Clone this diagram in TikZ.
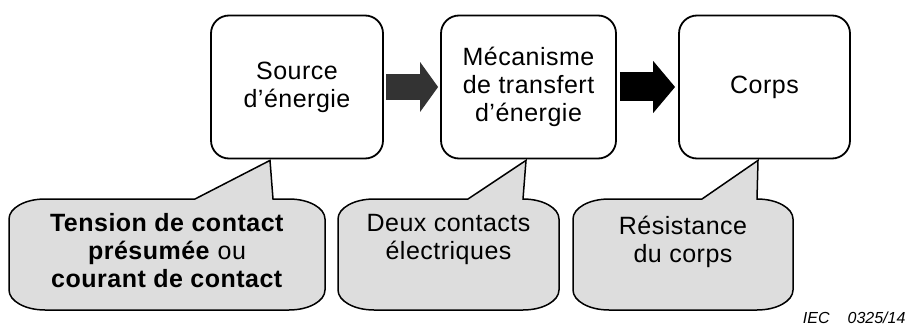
\documentclass[tikz,border=0pt]{standalone}
\usepackage{fontspec}
\setmainfont{Liberation Sans}
\usepackage{tikz}
\usetikzlibrary{calc}
\usetikzlibrary{arrows.meta}
\definecolor{grisbulle}{RGB}{221,221,221}
\definecolor{grisfleche}{RGB}{51,51,51}

\begin{document}
\begin{tikzpicture}[x=1pt,y=1pt,
  boite/.style={draw,line width=1.8pt,rounded corners=18pt,minimum height=143pt,align=center,
    font=\fontsize{25}{28}\selectfont\addfontfeature{LetterSpace=2}},
  texte/.style={align=center,font=\fontsize{25}{28}\selectfont\addfontfeature{LetterSpace=2}},
  bulle/.style={draw,line width=1.5pt,fill=grisbulle},
  fleche/.style={line width=26pt,-{Triangle[length=18pt,width=49pt]}}]
  \useasboundingbox (0,0) rectangle (912,327);
  \node[boite,minimum width=172pt] (src) at (297,240) {Source\\d’énergie};
  \node[boite,minimum width=175pt] (mech) at (528.5,240) {Mécanisme\\de transfert\\d’énergie};
  \node[boite,minimum width=171pt] (corps) at (764.5,240) {Corps};
  \draw[fleche,color=grisfleche,shorten <=2.5pt,shorten >=2pt] (src.east)--(mech.west);
  \draw[fleche,line width=29pt,-{Triangle[length=22pt,width=51pt]},shorten <=3pt,shorten >=3pt] (mech.east)--(corps.west);
  \coordinate (p1) at ($(src.south)+(-27,-1)$);
  \coordinate (p2) at ($(mech.south)+(-2.5,-1)$);
  \coordinate (p3) at ($(corps.south)+(-6.5,-1)$);
  \draw[bulle] (195,128)--(p1)--(273,128)--(289,128) arc[start angle=90,end angle=0,x radius=36,y radius=20]
    --(325,37) arc[start angle=0,end angle=-90,x radius=36,y radius=20]
    --(45,17) arc[start angle=270,end angle=180,x radius=36,y radius=20]
    --(9,108) arc[start angle=180,end angle=90,x radius=36,y radius=20]--cycle;
  \draw[bulle] (468,128)--(p2)--(523,128) arc[start angle=90,end angle=0,x radius=36,y radius=20]
    --(559,37) arc[start angle=0,end angle=-90,x radius=36,y radius=20]
    --(374,17) arc[start angle=270,end angle=180,x radius=36,y radius=20]
    --(338,108) arc[start angle=180,end angle=90,x radius=36,y radius=20]--cycle;
  \draw[bulle] (702,128)--(p3)--(757,128) arc[start angle=90,end angle=0,x radius=36,y radius=20]
    --(793,37) arc[start angle=0,end angle=-90,x radius=36,y radius=20]
    --(609,17) arc[start angle=270,end angle=180,x radius=36,y radius=20]
    --(573,108) arc[start angle=180,end angle=90,x radius=36,y radius=20]--cycle;
  \node[texte] (tension) at (167,76) {\textbf{Tension de contact}\\\textbf{présumée} ou\\\textbf{courant de contact}};
  \node[texte] (contacts) at (448.5,87.5) {Deux contacts\\électriques};
  \node[texte] (resist) at (683,85.5) {Résistance\\du corps};
  \node[font=\fontsize{16}{19}\selectfont\itshape,anchor=base east] (iec) at (909,4) {IEC\hspace{18pt}0325/14};
\end{tikzpicture}
\end{document}
